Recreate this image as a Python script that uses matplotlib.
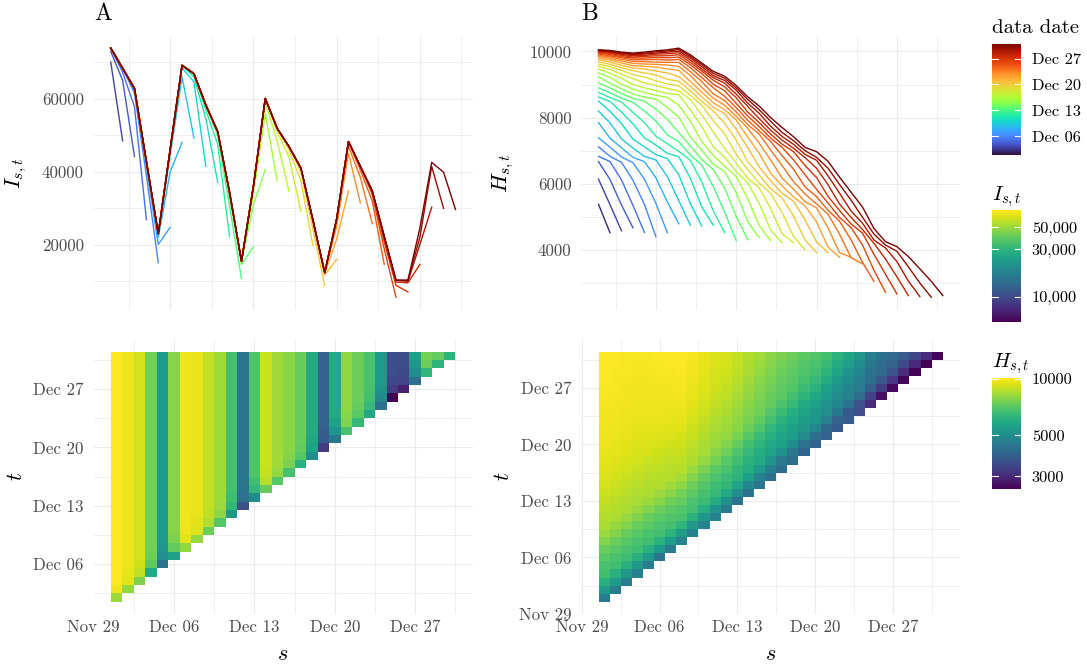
import numpy as np
import pandas as pd
import matplotlib
matplotlib.use("Agg")
import matplotlib.pyplot as plt
import matplotlib.dates as mdates
import matplotlib.ticker as mticker
import matplotlib.transforms as mtransforms
from matplotlib.colors import LogNorm, Normalize
from matplotlib.cm import ScalarMappable

# ------------------------------------------------------------------ data
days = pd.date_range("2021-12-01", "2021-12-31", freq="D")   # Dec 01 .. Dec 31

# Panel A : I_{s,t}  (reference date s = Dec 01..Dec 30, data date t = Dec 02..Dec 31)
I_latest = [73900, 68400, 62800, 42800, 23000, 46100, 69200, 66900, 58300, 51000,
            34300, 15500, 36000, 60100, 51900, 46900, 41000, 26900, 12400, 27000,
            48300, 41500, 34800, 22400, 10300, 10300, 24500, 42600, 39900, 29700]
# value reported 1, 2 and 3 days after the reference date
I_lag1 = [50000, 48500, 44200, 26900, 15100, 24800, 48100, 49300, 41500, 37100,
          22200, 10800, 19500, 40600, 37600, 34600, 29200, 19900, 8800, 16000,
          34800, 31500, 25800, 14700, 5640, 7100, 14600, 30300, 30000]
I_lag2 = [70100, 65100, 57800, 39000, 20100, 40000, 66000, 64600, 54600, 47500,
          30500, 14600, 31000, 56000, 48500, 44000, 37500, 24500, 11700, 21500,
          45000, 38500, 32000, 19000, 8900, 9600, 20000, 41500]
I_lag3 = [73000, 67300, 61500, 41500, 22000, 44500, 68500, 66000, 57000, 50000,
          33000, 15200, 34000, 59000, 51000, 46000, 40000, 26000, 12100, 25000,
          47000, 40500, 33800, 21000, 9800, 10000, 22000]

# Panel B : H_{s,t}, one list per data date t (values for s = Dec 01 .. t)
H_t01 = [4550]
H_t02 = [5380, 4520]
H_t03 = [6140, 5370, 4580]
H_t04 = [6670, 6130, 5360, 4670]
H_t05 = [6830, 6670, 6120, 5350, 4530]
H_t06 = [7120, 6830, 6650, 6110, 5380, 4400]
H_t07 = [7390, 7110, 6810, 6640, 6140, 5410, 4520]
H_t08 = [7850, 7380, 7090, 6800, 6670, 6180, 5450, 4790]
H_t09 = [8200, 7840, 7360, 7080, 6830, 6720, 6220, 5490, 4750]
H_t10 = [8500, 8190, 7820, 7350, 7120, 6880, 6760, 6270, 5400, 4720]
H_t11 = [8620, 8490, 8170, 7810, 7390, 7170, 6920, 6820, 6170, 5300, 4750]
H_t12 = [8760, 8610, 8470, 8160, 7850, 7440, 7210, 6980, 6710, 6050, 5180, 4520]
H_t13 = [8900, 8750, 8590, 8460, 8200, 7900, 7480, 7270, 6870, 6570, 5920, 5140, 4280]
H_t14 = [9050, 8900, 8730, 8580, 8500, 8260, 7950, 7550, 7150, 6730, 6430, 5870, 5010,
         4310]
H_t15 = [9230, 9040, 8870, 8720, 8620, 8560, 8310, 8020, 7420, 7010, 6590, 6370, 5730,
         4860, 4370]
H_t16 = [9350, 9220, 9010, 8860, 8760, 8680, 8610, 8380, 7890, 7280, 6860, 6530, 6220,
         5550, 4740, 4280]
H_t17 = [9470, 9340, 9190, 9000, 8900, 8820, 8730, 8690, 8240, 7730, 7120, 6800, 6370,
         6030, 5410, 4600, 4220]
H_t18 = [9550, 9460, 9310, 9180, 9050, 8970, 8880, 8810, 8540, 8080, 7570, 7060, 6630,
         6170, 5880, 5250, 4490, 4220]
H_t19 = [9620, 9540, 9430, 9300, 9230, 9110, 9020, 8960, 8670, 8380, 7910, 7500, 6890,
         6430, 6020, 5710, 5130, 4410, 4000]
H_t20 = [9690, 9610, 9510, 9420, 9350, 9290, 9160, 9100, 8810, 8490, 8200, 7830, 7320,
         6670, 6270, 5850, 5570, 5030, 4300, 3920]
H_t21 = [9750, 9680, 9580, 9500, 9470, 9410, 9350, 9240, 8950, 8630, 8310, 8120, 7650,
         7090, 6510, 6090, 5710, 5470, 4910, 4240, 3920]
H_t22 = [9800, 9740, 9650, 9570, 9550, 9530, 9470, 9430, 9090, 8770, 8450, 8240, 7930,
         7410, 6920, 6320, 5940, 5600, 5330, 4850, 4090, 3780]
H_t23 = [9850, 9790, 9710, 9640, 9620, 9610, 9590, 9550, 9270, 8910, 8590, 8370, 8040,
         7680, 7230, 6720, 6170, 5830, 5460, 5270, 4670, 3920, 3780]
H_t24 = [9880, 9840, 9760, 9700, 9690, 9680, 9670, 9670, 9390, 9090, 8720, 8510, 8170,
         7790, 7500, 7020, 6550, 6060, 5690, 5390, 5080, 4480, 3770, 3580]
H_t25 = [9920, 9870, 9810, 9750, 9750, 9760, 9740, 9760, 9510, 9210, 8900, 8640, 8300,
         7920, 7600, 7280, 6850, 6440, 5900, 5610, 5200, 4870, 4310, 3630, 3050]
H_t26 = [9950, 9910, 9840, 9800, 9800, 9820, 9810, 9830, 9600, 9330, 9010, 8810, 8430,
         8050, 7730, 7380, 7100, 6720, 6270, 5830, 5420, 4980, 4680, 4150, 3390, 2720]
H_t27 = [9980, 9940, 9880, 9830, 9850, 9870, 9870, 9900, 9670, 9410, 9130, 8930, 8600,
         8170, 7850, 7500, 7200, 6970, 6550, 6190, 5620, 5190, 4790, 4510, 3870, 3270,
         2670]
H_t28 = [10000, 9970, 9910, 9870, 9880, 9920, 9930, 9960, 9740, 9470, 9210, 9040, 8710,
         8340, 7970, 7620, 7320, 7070, 6790, 6470, 5970, 5390, 4990, 4620, 4200, 3730,
         3190, 2620]
H_t29 = [10020, 9990, 9940, 9900, 9920, 9950, 9980, 10010, 9800, 9540, 9270, 9120, 8830,
         8440, 8130, 7740, 7430, 7190, 6890, 6710, 6240, 5720, 5180, 4810, 4300, 4060,
         3650, 3060, 2590]
H_t30 = [10040, 10010, 9960, 9930, 9950, 9990, 10010, 10060, 9850, 9600, 9340, 9190,
         8900, 8550, 8240, 7890, 7550, 7300, 7000, 6800, 6470, 5980, 5510, 4990, 4480,
         4150, 3960, 3490, 3000, 2570]
H_t31 = [10050, 10030, 9980, 9950, 9980, 10020, 10050, 10100, 9900, 9650, 9400, 9250,
         8970, 8630, 8350, 8000, 7700, 7420, 7100, 6970, 6680, 6200, 5750, 5300, 4650,
         4250, 4100, 3800, 3430, 3050, 2620]

# legend breaks / labels
date_breaks = ["2021-12-06", "2021-12-13", "2021-12-20", "2021-12-27"]
I_breaks = [10000, 30000, 50000]
I_break_labels = ["10,000", "30,000", "50,000"]
H_breaks = [3000, 5000, 10000]
H_break_labels = ["3000", "5000", "10000"]

# ------------------------------------------------------------------ matrices
H_by_date = [H_t01, H_t02, H_t03, H_t04, H_t05, H_t06, H_t07, H_t08, H_t09, H_t10,
             H_t11, H_t12, H_t13, H_t14, H_t15, H_t16, H_t17, H_t18, H_t19, H_t20,
             H_t21, H_t22, H_t23, H_t24, H_t25, H_t26, H_t27, H_t28, H_t29, H_t30,
             H_t31]
nd = len(days)
for i, row in enumerate(H_by_date):
    assert len(row) == i + 1, (i, len(row))

dnum = mdates.date2num(days.to_pydatetime())
nA = len(I_latest)
lag_tables = {1: I_lag1, 2: I_lag2, 3: I_lag3}

I_mat = np.full((nd, nd), np.nan)            # [t index, s index]
for ti in range(nd):
    for si in range(nA):
        d = ti - si
        if d < 1:
            continue
        tab = lag_tables.get(d)
        I_mat[ti, si] = tab[si] if (tab is not None and si < len(tab)) else I_latest[si]

H_mat = np.full((nd, nd), np.nan)
for ti, row in enumerate(H_by_date):
    H_mat[ti, :len(row)] = row

# ------------------------------------------------------------------ figure
plt.rcParams["font.family"] = ["cmr10", "DejaVu Serif"]
plt.rcParams["mathtext.fontset"] = "cm"
plt.rcParams["axes.unicode_minus"] = False
plt.rcParams["axes.formatter.use_mathtext"] = True

W, H = 1087, 668
DPI = 100
fig = plt.figure(figsize=(W / DPI, H / DPI), dpi=DPI)
fig.patch.set_facecolor("white")


def px_axes(x0, y0, x1, y1):
    return fig.add_axes([x0 / W, 1 - y1 / H, (x1 - x0) / W, (y1 - y0) / H])


def ftext(x, y, s, **kw):
    return fig.text(x / W, 1 - y / H, s, **kw)


def expand(lo, hi, f=0.05):
    r = hi - lo
    return lo - f * r, hi + f * r


def edges(c):
    return np.append(c - 0.5, c[-1] + 0.5)


GRID = "#EBEBEB"
TICKC = "#4D4D4D"
TICK_FS = 12.2

mondays = mdates.date2num(pd.date_range("2021-11-15", "2022-01-17", freq="7D").to_pydatetime())
major_dates = mticker.FixedLocator(mondays)
minor_dates = mticker.FixedLocator(mondays + 3.5)
date_fmt = mdates.DateFormatter("%b %d")


def style(ax):
    for sp in ax.spines.values():
        sp.set_visible(False)
    ax.set_axisbelow(True)
    ax.grid(True, which="major", color=GRID, lw=0.85)
    ax.grid(True, which="minor", color=GRID, lw=0.55)
    ax.tick_params(which="both", length=0, colors=TICKC, labelsize=TICK_FS)
    ax.set_facecolor("white")


t_norm = Normalize(dnum[0], dnum[-1])
turbo = plt.get_cmap("turbo")

# ---------------- top A: lines of I
axA = px_axes(93.5, 35.7, 472.7, 309.7)
style(axA)
xsA = dnum[:nA]
for ti in range(nd):
    vals = I_mat[ti, :nA]
    ok = ~np.isnan(vals)
    if ok.sum() < 2:
        continue
    axA.plot(xsA[ok], vals[ok], color=turbo(t_norm(dnum[ti])), lw=1.0,
             solid_joinstyle="round", zorder=3)
axA.set_xlim(*expand(xsA[0], xsA[-1]))
axA.set_ylim(*expand(np.nanmin(I_mat), np.nanmax(I_mat)))
axA.xaxis.set_major_locator(major_dates)
axA.xaxis.set_minor_locator(minor_dates)
axA.tick_params(axis="x", labelbottom=False)
axA.yaxis.set_major_locator(mticker.MultipleLocator(20000))
axA.yaxis.set_minor_locator(mticker.MultipleLocator(10000))
axA.yaxis.set_major_formatter(mticker.StrMethodFormatter("{x:.0f}"))
axA.tick_params(axis="y", pad=7)

# ---------------- top B: lines of H
axB = px_axes(581.3, 35.7, 960, 309.7)
style(axB)
for ti in range(nd):
    vals = H_mat[ti]
    ok = ~np.isnan(vals)
    if ok.sum() < 2:
        continue
    axB.plot(dnum[ok], vals[ok], color=turbo(t_norm(dnum[ti])), lw=1.0,
             solid_joinstyle="round", zorder=3)
axB.set_xlim(*expand(dnum[0], dnum[-1]))
axB.set_ylim(*expand(np.nanmin(H_mat), np.nanmax(H_mat)))
axB.xaxis.set_major_locator(major_dates)
axB.xaxis.set_minor_locator(minor_dates)
axB.tick_params(axis="x", labelbottom=False)
axB.yaxis.set_major_locator(mticker.MultipleLocator(2000))
axB.yaxis.set_minor_locator(mticker.MultipleLocator(1000))
axB.yaxis.set_major_formatter(mticker.StrMethodFormatter("{x:.0f}"))
axB.tick_params(axis="y", pad=7)

# ---------------- bottom A: heatmap of I
I_norm = LogNorm(np.nanmin(I_mat), np.nanmax(I_mat))
axC = px_axes(93.5, 339, 472.7, 614.3)
style(axC)
ZA = I_mat[1:, :nA]
xeA = edges(dnum[:nA])
yeA = edges(dnum[1:])
axC.pcolormesh(xeA, yeA, np.ma.masked_invalid(ZA), cmap="viridis", norm=I_norm,
               shading="flat", edgecolors="none", antialiased=False, zorder=1)
axC.set_xlim(*expand(xeA[0], xeA[-1]))
axC.set_ylim(*expand(yeA[0], yeA[-1]))

# ---------------- bottom B: heatmap of H
H_norm = LogNorm(np.nanmin(H_mat), np.nanmax(H_mat))
axD = px_axes(581.3, 339, 960, 614.3)
style(axD)
xeB = edges(dnum)
yeB = edges(dnum)
axD.pcolormesh(xeB, yeB, np.ma.masked_invalid(H_mat), cmap="viridis", norm=H_norm,
               shading="flat", edgecolors="none", antialiased=False, zorder=1)
axD.set_xlim(*expand(xeB[0], xeB[-1]))
axD.set_ylim(*expand(yeB[0], yeB[-1]))

for ax in (axC, axD):
    for axis in (ax.xaxis, ax.yaxis):
        axis.set_major_locator(major_dates)
        axis.set_minor_locator(minor_dates)
        axis.set_major_formatter(date_fmt)
    ax.tick_params(axis="x", pad=4)
    ax.tick_params(axis="y", pad=7)

# ---------------- axis titles and panel tags
LAB_FS = 16
ftext(16.7, 173, r"$I_{s,t}$", rotation=90, ha="center", va="center", fontsize=LAB_FS)
ftext(503.5, 173, r"$H_{s,t}$", rotation=90, ha="center", va="center", fontsize=LAB_FS)
ftext(16.7, 476, r"$t$", rotation=90, ha="center", va="center", fontsize=LAB_FS)
ftext(503.5, 476, r"$t$", rotation=90, ha="center", va="center", fontsize=LAB_FS)
ftext(283, 660, r"$s$", ha="center", va="baseline", fontsize=LAB_FS)
ftext(770.6, 660, r"$s$", ha="center", va="baseline", fontsize=LAB_FS)
ftext(94, 20, "A", ha="left", va="baseline", fontsize=17)
ftext(581, 20, "B", ha="left", va="baseline", fontsize=17)

# ---------------- legends (colour bars)
LEG_FS = 11.8


def colourbar(y0, y1, norm, cmap, ticks, labels, title, title_y):
    cax = px_axes(992.3, y0, 1021, y1)
    cb = fig.colorbar(ScalarMappable(norm=norm, cmap=cmap), cax=cax)
    cb.outline.set_visible(False)
    cb.set_ticks(ticks)
    cb.set_ticklabels(labels)
    cb.minorticks_off()
    cax.tick_params(axis="y", which="both", length=0, pad=7.7, labelsize=LEG_FS,
                    colors="black")
    tr = mtransforms.blended_transform_factory(cax.transAxes, cax.transData)
    for v in ticks:
        cax.plot([0, 0.2], [v, v], transform=tr, color="white", lw=0.8)
        cax.plot([0.8, 1.0], [v, v], transform=tr, color="white", lw=0.8)
    cax.set_ylim(norm.vmin, norm.vmax)
    ftext(992.3, title_y, title, ha="left", va="baseline", fontsize=15)
    return cb


date_break_num = mdates.date2num(pd.to_datetime(date_breaks).to_pydatetime())
colourbar(43.7, 154.7, t_norm, turbo, list(date_break_num),
          [mdates.num2date(v).strftime("%b %d") for v in date_break_num],
          "data date", 33.3)
colourbar(210.3, 321.7, I_norm, plt.get_cmap("viridis"), I_breaks, I_break_labels,
          r"$I_{s,t}$", 200)
colourbar(378.3, 489, H_norm, plt.get_cmap("viridis"), H_breaks, H_break_labels,
          r"$H_{s,t}$", 367)

fig.savefig("out.png", dpi=DPI, facecolor="white")
